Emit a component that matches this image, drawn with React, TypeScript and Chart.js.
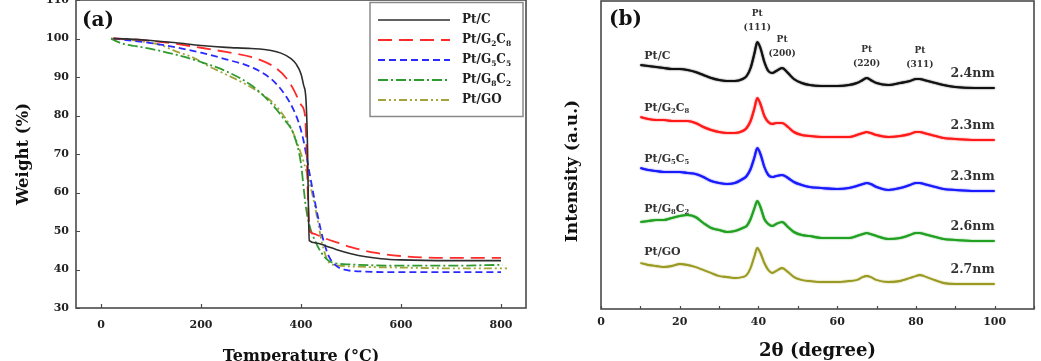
import { useEffect, useRef } from "react";
import { Chart, registerables } from "chart.js";

Chart.register(...registerables);

const SERIF = "'DejaVu Serif', 'Liberation Serif', serif";

// ---------- (a) TGA: temperature (°C) vs. remaining weight (%) ----------
const tgaNames = ["Pt/C", "Pt/G₂C₈", "Pt/G₅C₅", "Pt/G₈C₂", "Pt/GO"];
const tgaTicks = [0, 200, 400, 600, 800];

const tempPtC = [25, 50, 100, 150, 200, 250, 300, 340, 360, 380, 390, 400, 405, 410, 413, 415, 416.5, 430, 450, 470, 500, 530, 560, 600, 700, 800];
const weightPtC = [100, 99.9, 99.5, 98.9, 98.2, 97.7, 97.4, 96.9, 96.2, 94.8, 93.4, 90.8, 88, 84, 72, 55, 47.5, 46.9, 46.1, 45.2, 44.1, 43.3, 42.8, 42.5, 42.3, 42.3];

const tempG2C8 = [25, 50, 100, 150, 200, 250, 300, 330, 350, 370, 385, 400, 408, 411, 414, 417, 420, 430, 450, 475, 500, 550, 600, 650, 700, 800];
const weightG2C8 = [100, 99.9, 99.4, 98.6, 97.6, 96.5, 95.2, 93.8, 92.3, 89.8, 86.8, 82.8, 80, 72, 58, 50.5, 49.6, 49.1, 48, 46.9, 45.8, 44.3, 43.5, 43.1, 43.0, 43.0];

const tempG5C5 = [25, 50, 100, 150, 200, 250, 300, 330, 350, 370, 385, 395, 405, 415, 425, 435, 445, 455, 470, 490, 520, 600, 700, 800];
const weightG5C5 = [100, 99.6, 98.8, 97.7, 96.3, 94.6, 92.6, 90.5, 88.3, 85.0, 81.5, 78.3, 73.5, 66.5, 59.5, 53, 47.5, 43.6, 41, 39.9, 39.5, 39.3, 39.3, 39.3];

const tempG8C2 = [20, 30, 45, 70, 100, 150, 200, 250, 300, 340, 365, 385, 400, 405, 410, 418, 428, 440, 455, 470, 500, 600, 700, 803];
const weightG8C2 = [100, 99.3, 98.6, 98.0, 97.3, 95.8, 93.9, 91.5, 87.9, 83.2, 79.2, 75.2, 67.5, 61.5, 56, 51, 47.5, 44.5, 42.3, 41.6, 41.3, 41.0, 41.0, 41.2];

const tempGO = [20, 50, 85, 117, 151, 185, 217, 251, 284, 317, 344, 364, 380, 392, 402, 412, 422, 432, 442, 455, 470, 500, 600, 700, 812];
const weightGO = [100, 99.7, 99.2, 98.4, 96.6, 95, 92.7, 90.6, 88.5, 86, 83.3, 80.2, 76.8, 73, 69.3, 65, 59.9, 53.7, 46.9, 42, 41.1, 40.8, 40.5, 40.3, 40.3];

// ---------- (b) XRD: 2θ (degree) vs. intensity (a.u.), stacked ----------
const xrdNames = ["Pt/C", "Pt/G₂C₈", "Pt/G₅C₅", "Pt/G₈C₂", "Pt/GO"];
const twoTheta = [10, 12, 14, 16, 18, 20, 22, 24, 26, 28, 30, 32, 34, 36, 37, 38, 39, 39.7, 40.5, 41.5, 42.5, 43.5, 44.5, 46, 47.5, 49, 51, 53, 56, 60, 63, 65, 66.5, 67.5, 68.5, 70, 73, 76, 78.5, 80, 81, 82, 84, 87, 90, 95, 100];
const xrdPtC = [23, 22, 21, 20, 19, 19, 18, 16, 13, 10, 8, 7, 7, 9, 12, 20, 35, 46, 40, 26, 17, 15, 17, 20, 15, 9, 5, 3, 2, 2, 3, 5, 8, 10, 8, 5, 3, 5, 7, 9, 9, 8, 6, 3, 1, 0, 0];
const xrdG2C8 = [23, 21, 20, 20, 19, 19, 19, 17, 13, 10, 8, 7, 7, 9, 12, 19, 32, 42, 36, 24, 18, 16, 17, 17, 13, 8, 5, 4, 3, 3, 3, 5, 7, 8, 7, 5, 3, 4, 6, 8, 8, 7, 5, 2, 1, 0, 0];
const xrdG5C5 = [23, 21, 20, 19, 19, 19, 18, 17, 14, 10, 8, 7, 8, 12, 15, 22, 34, 43, 37, 24, 16, 14, 15, 16, 13, 9, 6, 4, 3, 2, 3, 5, 7, 8, 7, 4, 1, 3, 6, 8, 8, 7, 5, 2, 1, 0, 0];
const xrdG8C2 = [19, 20, 21, 21, 23, 25, 26, 24, 18, 13, 11, 9, 10, 13, 15, 22, 33, 40, 34, 22, 17, 15, 17, 19, 14, 9, 6, 5, 3, 3, 3, 5, 7, 8, 7, 5, 2, 3, 6, 8, 8, 7, 5, 2, 1, 0, 0];
const xrdGO = [21, 19, 18, 17, 18, 20, 19, 17, 14, 11, 8, 7, 6, 7, 9, 16, 28, 36, 31, 21, 14, 11, 13, 16, 12, 7, 4, 3, 2, 2, 3, 4, 7, 8, 7, 4, 2, 3, 6, 8, 9, 8, 5, 1, 0, 0, 0];
const xrdOffsets = [221, 169, 118, 68, 25];
const crystalliteSizes = ["2.4nm", "2.3nm", "2.3nm", "2.6nm", "2.7nm"];
const peakPositions = [39.7, 46, 67.5, 81];
const peakPlanes = ["(111)", "(200)", "(220)", "(311)"];

// Line styles
const tgaColors = ["#2e2e2e", "#ff2a2a", "#2a2aff", "#2f9a2f", "#a3a33a"];
const tgaDashes = [[], [14, 7], [7, 4], [10, 3, 2, 3], [8, 3, 2, 3, 2, 3]];
const tgaWidths = [1.6, 1.8, 1.8, 1.8, 1.8];
const xrdColors = ["#111111", "#ff1a1a", "#1a1aff", "#22a022", "#9a9a22"];
const xrdWidths = [2.1, 2.1, 2.1, 2.1, 1.8];

const SUBSCRIPTS = "₀₁₂₃₄₅₆₇₈₉";

// Draws a label whose subscript characters are set smaller and lowered.
function drawRich(ctx: CanvasRenderingContext2D, text: string, x: number, y: number, size: number) {
  const runs: { s: string; sub: boolean }[] = [];
  for (const ch of text) {
    const k = SUBSCRIPTS.indexOf(ch);
    const sub = k >= 0;
    const c = sub ? String(k) : ch;
    const last = runs[runs.length - 1];
    if (last && last.sub === sub) last.s += c;
    else runs.push({ s: c, sub });
  }
  ctx.textAlign = "left";
  ctx.textBaseline = "middle";
  let cx = x;
  for (const r of runs) {
    const fs = r.sub ? size * 0.62 : size;
    ctx.font = `bold ${fs}px ${SERIF}`;
    ctx.fillText(r.s, cx, r.sub ? y + size * 0.3 : y);
    cx += ctx.measureText(r.s).width;
  }
}

function framePlugin(tickLen: number, yTicks: boolean) {
  return {
    id: "frame",
    afterDatasetsDraw(chart: any) {
      const { ctx, chartArea: a } = chart;
      const sx = chart.scales.x;
      const sy = chart.scales.y;
      ctx.save();
      ctx.strokeStyle = "#4a4a4a";
      ctx.lineWidth = 1.2;
      ctx.beginPath();
      for (const t of sx.ticks) {
        const p = Math.round(sx.getPixelForValue(t.value)) + 0.5;
        ctx.moveTo(p, a.bottom);
        ctx.lineTo(p, a.bottom - tickLen);
      }
      if (yTicks) {
        for (const t of sy.ticks) {
          const p = Math.round(sy.getPixelForValue(t.value)) + 0.5;
          ctx.moveTo(a.left, p);
          ctx.lineTo(a.left + tickLen, p);
        }
      }
      ctx.stroke();
      ctx.lineWidth = 1.6;
      ctx.strokeRect(a.left, a.top, a.right - a.left, a.bottom - a.top);
      ctx.restore();
    },
  };
}

function panelLabel(text: string, dx: number, dy: number) {
  return {
    id: "panelLabel",
    afterDraw(chart: any) {
      const { ctx, chartArea: a } = chart;
      ctx.save();
      ctx.fillStyle = "#111";
      ctx.font = `bold 20px ${SERIF}`;
      ctx.textAlign = "left";
      ctx.textBaseline = "middle";
      ctx.fillText(text, a.left + dx, a.top + dy);
      ctx.restore();
    },
  };
}

// Soft edge on the XRD traces, which are noisy counts
const xrdSoften = {
  id: "xrdSoften",
  beforeDatasetDraw(chart: any, args: any) {
    const ds = chart.data.datasets[args.index];
    chart.ctx.save();
    chart.ctx.shadowColor = ds.borderColor;
    chart.ctx.shadowBlur = 1.5;
  },
  afterDatasetDraw(chart: any) {
    chart.ctx.restore();
  },
};

const tgaLegend = {
  id: "tgaLegend",
  afterDraw(chart: any) {
    const { ctx, chartArea: a } = chart;
    const w = 153;
    const h = 114;
    const x0 = a.right - w - 3;
    const y0 = a.top + 2.5;
    ctx.save();
    ctx.fillStyle = "#fff";
    ctx.fillRect(x0, y0, w, h);
    ctx.strokeStyle = "#8a8a8a";
    ctx.lineWidth = 1.5;
    ctx.strokeRect(x0, y0, w, h);
    chart.data.datasets.forEach((ds: any, i: number) => {
      const y = y0 + 17.5 + i * 20;
      ctx.strokeStyle = ds.borderColor;
      ctx.lineWidth = ds.borderWidth;
      ctx.setLineDash(ds.borderDash || []);
      ctx.beginPath();
      ctx.moveTo(x0 + 8, y);
      ctx.lineTo(x0 + 80, y);
      ctx.stroke();
      ctx.setLineDash([]);
      ctx.fillStyle = "#222";
      drawRich(ctx, ds.label, x0 + 92, y, 12);
    });
    ctx.restore();
  },
};

const xrdNotes = {
  id: "xrdNotes",
  afterDatasetsDraw(chart: any) {
    const { ctx } = chart;
    const sx = chart.scales.x;
    const sy = chart.scales.y;
    ctx.save();
    ctx.fillStyle = "#333";
    // sample names above each pattern
    xrdNames.forEach((n, i) => {
      drawRich(ctx, n, sx.getPixelForValue(11), sy.getPixelForValue(xrdOffsets[i] + 32), 11);
    });
    // crystallite sizes at the right end
    ctx.textBaseline = "middle";
    ctx.font = `bold 12.5px ${SERIF}`;
    ctx.textAlign = "right";
    crystalliteSizes.forEach((s, i) => {
      ctx.fillText(s, sx.getPixelForValue(100), sy.getPixelForValue(xrdOffsets[i] + 14));
    });
    // Pt reflections above the top pattern
    ctx.font = `bold 9px ${SERIF}`;
    ctx.textAlign = "center";
    peakPositions.forEach((p, k) => {
      const idx = twoTheta.indexOf(p);
      const top = xrdPtC[idx] + xrdOffsets[0];
      const px = sx.getPixelForValue(p);
      ctx.fillText("Pt", px, sy.getPixelForValue(top + 28));
      ctx.fillText(peakPlanes[k], px, sy.getPixelForValue(top + 14));
    });
    // vertical axis title
    const a = chart.chartArea;
    ctx.save();
    ctx.translate(a.left - 28, (a.top + a.bottom) / 2 + 16);
    ctx.rotate(-Math.PI / 2);
    ctx.fillStyle = "#111";
    ctx.font = `bold 17px ${SERIF}`;
    ctx.textAlign = "center";
    ctx.fillText("Intensity (a.u.)", 0, 0);
    ctx.restore();
    ctx.restore();
  },
};

function tgaConfig(): any {
  const temps = [tempPtC, tempG2C8, tempG5C5, tempG8C2, tempGO];
  const weights = [weightPtC, weightG2C8, weightG5C5, weightG8C2, weightGO];
  return {
    type: "line",
    data: {
      datasets: tgaNames.map((name, i) => ({
        label: name,
        data: temps[i].map((t, j) => ({ x: t, y: weights[i][j] })),
        borderColor: tgaColors[i],
        borderDash: tgaDashes[i],
        borderWidth: tgaWidths[i],
        pointRadius: 0,
        fill: false,
        cubicInterpolationMode: "monotone",
      })),
    },
    options: {
      animation: false,
      responsive: false,
      devicePixelRatio: 1,
      layout: { padding: { top: 20, right: 19, bottom: 0, left: 0 } },
      plugins: { legend: { display: false }, tooltip: { enabled: false } },
      scales: {
        x: {
          type: "linear",
          min: -50,
          max: 850,
          afterBuildTicks: (s: any) => {
            s.ticks = tgaTicks.map((v) => ({ value: v }));
          },
          afterFit: (s: any) => {
            s.height = 72;
          },
          grid: { display: false, drawTicks: false },
          border: { display: false },
          ticks: { padding: 11, color: "#222", font: { size: 11, weight: "bold", family: SERIF } },
          title: {
            display: true,
            text: "Temperature (°C)",
            color: "#111",
            padding: { top: 0, bottom: 14 },
            font: { size: 16, weight: "bold", family: SERIF },
          },
        },
        y: {
          type: "linear",
          min: 30,
          max: 110,
          afterFit: (s: any) => {
            s.width = 76;
          },
          grid: { display: false, drawTicks: false },
          border: { display: false },
          ticks: { stepSize: 10, padding: 7, color: "#222", font: { size: 11, weight: "bold", family: SERIF } },
          title: {
            display: true,
            text: "Weight (%)",
            color: "#111",
            padding: { top: 14, bottom: 0 },
            font: { size: 16.5, weight: "bold", family: SERIF },
          },
        },
      },
    },
    plugins: [framePlugin(4, true), tgaLegend, panelLabel("(a)", 6, 21)],
  };
}

function xrdConfig(): any {
  const patterns = [xrdPtC, xrdG2C8, xrdG5C5, xrdG8C2, xrdGO];
  return {
    type: "line",
    data: {
      datasets: xrdNames.map((name, i) => ({
        label: name,
        data: twoTheta.map((t, j) => ({ x: t, y: patterns[i][j] + xrdOffsets[i] })),
        borderColor: xrdColors[i],
        borderWidth: xrdWidths[i],
        pointRadius: 0,
        fill: false,
        cubicInterpolationMode: "monotone",
      })),
    },
    options: {
      animation: false,
      responsive: false,
      devicePixelRatio: 1,
      layout: { padding: { top: 21, right: 7, bottom: 0, left: 0 } },
      plugins: { legend: { display: false }, tooltip: { enabled: false } },
      scales: {
        x: {
          type: "linear",
          min: 0,
          max: 110,
          afterFit: (s: any) => {
            s.height = 71;
          },
          grid: { display: false, drawTicks: false },
          border: { display: false },
          ticks: {
            stepSize: 10,
            padding: 7,
            color: "#222",
            font: { size: 11, weight: "bold", family: SERIF },
            callback: (v: any) => (Number(v) % 20 === 0 && Number(v) <= 100 ? String(v) : ""),
          },
          title: {
            display: true,
            text: "2θ (degree)",
            color: "#111",
            padding: { top: 0, bottom: 18 },
            font: { size: 18, weight: "bold", family: SERIF },
          },
        },
        y: {
          type: "linear",
          min: 0,
          max: 308,
          afterFit: (s: any) => {
            s.width = 56;
          },
          grid: { display: false, drawTicks: false },
          border: { display: false },
          ticks: { display: false },
        },
      },
    },
    plugins: [xrdSoften, framePlugin(3, false), xrdNotes, panelLabel("(b)", 8, 19)],
  };
}

export default function App() {
  const refA = useRef<HTMLCanvasElement>(null);
  const refB = useRef<HTMLCanvasElement>(null);

  useEffect(() => {
    const chartA = new Chart(refA.current as HTMLCanvasElement, tgaConfig());
    const chartB = new Chart(refB.current as HTMLCanvasElement, xrdConfig());
    return () => {
      chartA.destroy();
      chartB.destroy();
    };
  }, []);

  return (
    <div
      style={{
        position: "fixed",
        left: 0,
        top: 0,
        width: 1041,
        height: 361,
        overflow: "hidden",
        background: "#fff",
      }}
    >
      <canvas
        ref={refA}
        width={545}
        height={400}
        style={{ position: "absolute", left: 0, top: -20, width: 545, height: 400 }}
      />
      <canvas
        ref={refB}
        width={496}
        height={400}
        style={{ position: "absolute", left: 545, top: -20, width: 496, height: 400 }}
      />
    </div>
  );
}
